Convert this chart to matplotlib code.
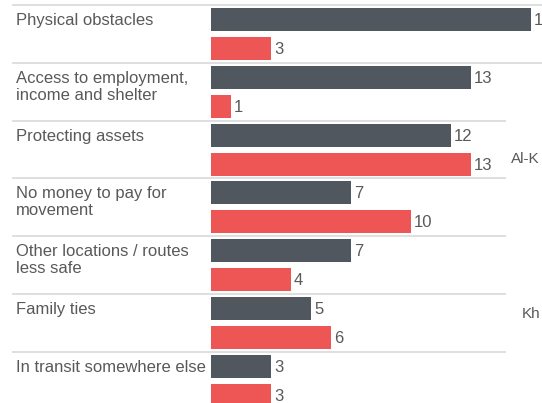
import matplotlib.pyplot as plt

plt.rcParams['font.family'] = ['Liberation Sans', 'DejaVu Sans']

# data
categories = ['Physical obstacles',
              'Access to employment,\nincome and shelter',
              'Protecting assets',
              'No money to pay for\nmovement',
              'Other locations / routes\nless safe',
              'Family ties',
              'In transit somewhere else']
dark_values = [16, 13, 12, 7, 7, 5, 3]
red_values = [3, 1, 13, 10, 4, 6, 3]
side_labels = ['Al-K', 'Kh']
side_groups = [2, 5]

dark_color = '#50575e'
red_color = '#ee5555'
text_color = '#595959'
line_color = '#dcdcdc'

W, H = 542, 403
unit_px = 20.0      # pixels per value unit
x0_px = 211.0       # where value 0 sits
top_px = 5.0        # first separator
pitch_px = 57.8     # group height

fig = plt.figure(figsize=(W / 100, H / 100), dpi=100)
ax = fig.add_axes([0, 0, 1, 1])
ax.set_xlim(-x0_px / unit_px, (W - x0_px) / unit_px)
ax.set_ylim((H - top_px) / pitch_px, -top_px / pitch_px)
ax.axis('off')


def px_x(p):
    return (p - x0_px) / unit_px


bar_h = 23 / pitch_px
dark_c = 14.5 / pitch_px
red_c = 43.5 / pitch_px

for i, cat in enumerate(categories):
    # separator
    right = W if i < 2 else 506
    ax.plot([px_x(12), px_x(right)], [i, i], color=line_color, lw=1.3,
            solid_capstyle='butt')
    ax.barh(i + dark_c, dark_values[i], height=bar_h, color=dark_color)
    ax.barh(i + red_c, red_values[i], height=bar_h, color=red_color)
    ax.text(dark_values[i] + 3 / unit_px, i + dark_c + 1 / pitch_px,
            str(dark_values[i]), va='center', ha='left', fontsize=12,
            color=text_color)
    ax.text(red_values[i] + 3 / unit_px, i + red_c + 1 / pitch_px,
            str(red_values[i]), va='center', ha='left', fontsize=12,
            color=text_color)
    ax.text(px_x(16), i + 8 / pitch_px, cat, va='top', ha='left',
            fontsize=12, color=text_color, linespacing=1.15)

# partly hidden labels of a neighbouring panel
ax.text(px_x(511), side_groups[0] + 38 / pitch_px, side_labels[0],
        va='center', ha='left', fontsize=11, color=text_color)
ax.text(px_x(522), side_groups[1] + 20 / pitch_px, side_labels[1],
        va='center', ha='left', fontsize=11, color=text_color)

fig.savefig('out.png', dpi=100)
